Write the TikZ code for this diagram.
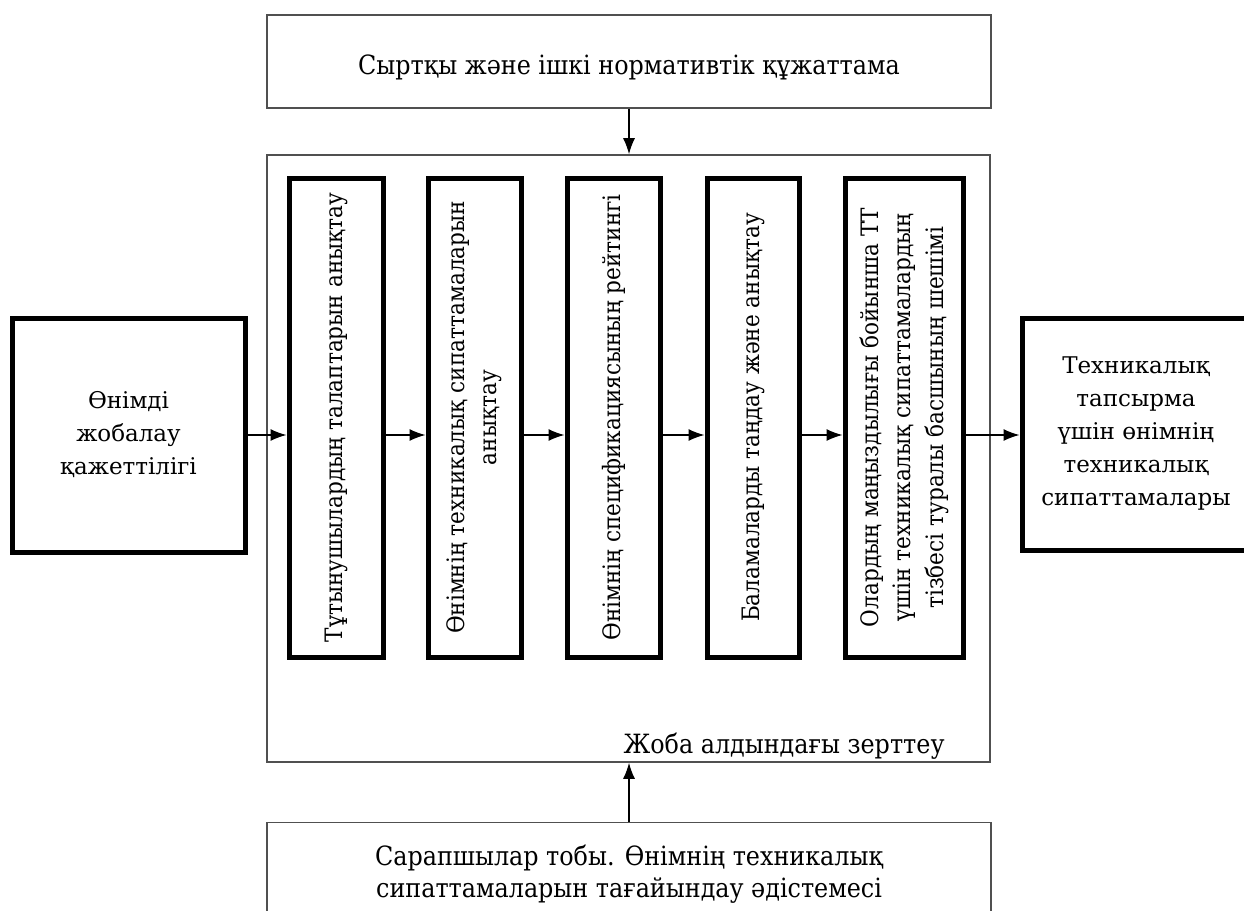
\documentclass[tikz,border=0pt]{standalone}
\usepackage{fontspec}
\setmainfont{DejaVu Serif}
\newfontfamily\condfont{DejaVu Serif Condensed}
\usetikzlibrary{arrows.meta}
\definecolor{thingray}{HTML}{505050}
\begin{document}
\begin{tikzpicture}[x=1pt,y=-1pt,
  thinbox/.style={draw=thingray, line width=1.6pt, fill=white, inner sep=0pt},
  thickbox/.style={draw=black, line width=5pt, fill=white, inner sep=0pt},
  condtext/.style={font=\condfont\fontsize{26.5}{32}\selectfont, align=center},
  sidetext/.style={font=\fontsize{23}{33}\selectfont, align=center},
  vtext/.style={font=\condfont\fontsize{24}{32.5}\selectfont, align=center, rotate=90},
  conn/.style={draw=black, line width=1.3pt, -{Latex[length=16pt,width=12pt]}}
]
\clip (0,0) rectangle (1244,910);
\useasboundingbox (0,0) rectangle (1244,910);
\fill[white] (0,0) rectangle (1244,910);

% top and big boxes
\node[thinbox, minimum width=724pt, minimum height=93pt,
  label={[condtext, yshift=-6pt]center:Сыртқы және ішкі нормативтік құжаттама}] (top) at (629,61.5) {};
\node[thinbox, minimum width=723pt, minimum height=607pt] (big) at (628.5,458.5) {};
\node[condtext, anchor=east] (biglabel) at (948,746) {Жоба алдындағы зерттеу};
\node[thinbox, condtext, minimum width=724pt, minimum height=104pt] (bot) at (629,874.5) {Сарапшылар тобы. Өнімнің техникалық\\сипаттамаларын тағайындау әдістемесі};

% side boxes
\node[thickbox, sidetext, minimum width=233pt, minimum height=234pt] (left) at (128.5,435) {Өнімді\\жобалау\\қажеттілігі};
\node[thickbox, sidetext, minimum width=228pt, minimum height=232pt] (right) at (1136,434) {Техникалық\\тапсырма\\үшін өнімнің\\техникалық\\сипаттамалары};

% inner boxes
\node[thickbox, minimum width=94pt, minimum height=479pt] (b1) at (336,417.5) {};
\node[thickbox, minimum width=93pt, minimum height=479pt] (b2) at (474.5,417.5) {};
\node[thickbox, minimum width=93pt, minimum height=479pt] (b3) at (613.5,417.5) {};
\node[thickbox, minimum width=92pt, minimum height=479pt] (b4) at (753,417.5) {};
\node[thickbox, minimum width=118pt, minimum height=479pt] (b5) at (904,417.5) {};

\node[vtext] (t1) at (b1) {Тұтынушылардың талаптарын анықтау};
\node[vtext] (t2) at (b2) {Өнімнің техникалық сипаттамаларын\\анықтау};
\node[vtext] (t3) at (b3) {Өнімнің спецификациясының рейтингі};
\node[vtext] (t4) at (b4) {Баламаларды таңдау және анықтау};
\node[vtext] (t5) at (b5) {Олардың маңыздылығы бойынша ТТ\\үшін техникалық сипаттамалардың\\тізбесі туралы басшының шешімі};

% connectors
\draw[conn] (top.south) -- (top.south |- big.north);
\draw[conn] (bot.north) -- (bot.north |- big.south);
\draw[conn] (left.east) -- (left.east -| b1.west);
\draw[conn] (b1.east |- left.east) -- (b2.west |- left.east);
\draw[conn] (b2.east |- left.east) -- (b3.west |- left.east);
\draw[conn] (b3.east |- left.east) -- (b4.west |- left.east);
\draw[conn] (b4.east |- left.east) -- (b5.west |- left.east);
\draw[conn] (b5.east |- left.east) -- (right.west |- left.east);
\end{tikzpicture}
\end{document}
